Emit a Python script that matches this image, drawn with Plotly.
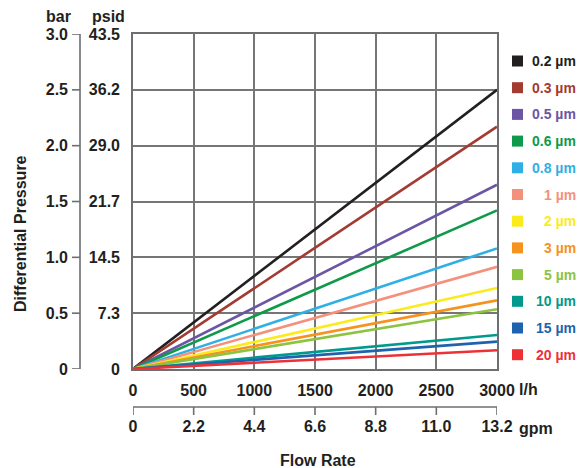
import plotly.graph_objects as go

W, H = 580, 468

# ---- data ----
flow_lh = [0, 3000]
grades = ["0.2 µm", "0.3 µm", "0.5 µm", "0.6 µm", "0.8 µm", "1 µm",
          "2 µm", "3 µm", "5 µm", "10 µm", "15 µm", "20 µm"]
dp_start_bar = [0, 0, 0, 0, 0, 0, 0, 0, 0, 0, 0, 0]
dp_end_bar = [2.50, 2.17, 1.65, 1.42, 1.08, 0.915, 0.725, 0.615, 0.535, 0.305, 0.245, 0.168]
colors = ["#231f20", "#a23b30", "#6b55a4", "#0e9a4a", "#2fb0e4", "#f4917c",
          "#fbeb1c", "#f6921e", "#8cc43f", "#009a8c", "#1d63ae", "#ec3237"]

bar_ticks = [0, 0.5, 1.0, 1.5, 2.0, 2.5, 3.0]
bar_labels = ["0", "0.5", "1.0", "1.5", "2.0", "2.5", "3.0"]
psid_labels = ["0", "7.3", "14.5", "21.7", "29.0", "36.2", "43.5"]
lh_ticks = [0, 500, 1000, 1500, 2000, 2500, 3000]
lh_labels = ["0", "500", "1000", "1500", "2000", "2500", "3000"]
gpm_ticks = [0, 2.2, 4.4, 6.6, 8.8, 11.0, 13.2]
gpm_labels = ["0", "2.2", "4.4", "6.6", "8.8", "11.0", "13.2"]


def px(x):
    return x / W


def py(y):
    return 1 - y / H


FONT = "Liberation Sans"
TXT = "#231f20"
GRID = "#767676"
AX = "#6d6e71"

fig = go.Figure()
for name, y0, y1, c in zip(grades, dp_start_bar, dp_end_bar, colors):
    fig.add_trace(go.Scatter(x=flow_lh, y=[y0, y1], mode="lines", name=name,
                             line=dict(color=c, width=2.6), showlegend=False,
                             xaxis="x", yaxis="y"))

# invisible anchor traces for the unit-scale subplots (bar / gpm)
fig.add_trace(go.Scatter(x=[0.5], y=[1.5], xaxis="x3", yaxis="y2", mode="markers",
                         marker=dict(size=1, opacity=0),
                         showlegend=False, hoverinfo="skip"))
fig.add_trace(go.Scatter(x=[6.6], y=[0.5], xaxis="x2", yaxis="y3", mode="markers",
                         marker=dict(size=1, opacity=0),
                         showlegend=False, hoverinfo="skip"))

tf = dict(family=FONT, size=16, color=TXT, weight="bold")
hidden = dict(showticklabels=False, showline=False, ticks="", showgrid=False,
              zeroline=False, range=[0, 1], automargin=False, fixedrange=True)

fig.update_layout(
    width=W, height=H,
    margin=dict(l=0, r=0, t=0, b=0),
    paper_bgcolor="white", plot_bgcolor="rgba(0,0,0,0)",
    font=dict(family=FONT, size=16, color=TXT, weight="bold"),
    xaxis=dict(domain=[px(133), px(497)], range=[0, 3000], automargin=False,
               anchor="y",
               tickvals=lh_ticks, ticktext=lh_labels, ticks="",
               showgrid=True, gridcolor=GRID, gridwidth=1.6,
               showline=True, linecolor=AX, linewidth=1.6, mirror=True,
               zeroline=False, ticklabelstandoff=6, tickfont=tf),
    yaxis=dict(domain=[py(369), py(34)], range=[0, 3], automargin=False,
               anchor="x",
               tickvals=bar_ticks, ticktext=psid_labels, ticks="",
               showgrid=True, gridcolor=GRID, gridwidth=1.6,
               showline=True, linecolor=AX, linewidth=1.6, mirror=True,
               zeroline=False, ticklabelstandoff=8, tickfont=tf),
    # gpm axis (bottom)
    xaxis2=dict(domain=[px(133), px(497)], anchor="y3", side="bottom",
                range=[0, 13.2], tickvals=gpm_ticks, ticktext=gpm_labels,
                automargin=False, ticks="", showgrid=False,
                showline=False, zeroline=False, tickfont=tf),
    yaxis3=dict(domain=[py(415), py(407)], anchor="x2", **hidden),
    # bar axis (left)
    yaxis2=dict(domain=[py(369), py(34)], anchor="x3", side="left",
                range=[0, 3], tickvals=bar_ticks, ticktext=bar_labels,
                automargin=False, ticks="", showgrid=False,
                showline=False, zeroline=False, ticklabelstandoff=3,
                tickfont=tf),
    xaxis3=dict(domain=[px(72), px(80)], anchor="y2", **hidden),
)

# axis spines and tick marks of the bar and gpm scales (placed via axis refs)
shapes = []
ln = dict(color=AX, width=1.6)
shapes.append(dict(type="line", xref="paper", yref="y2", layer="above",
                   x0=px(80), x1=px(80), y0=bar_ticks[0], y1=bar_ticks[-1], line=ln))
for t in bar_ticks:
    shapes.append(dict(type="line", xref="paper", yref="y2", layer="above",
                       x0=px(72), x1=px(80), y0=t, y1=t, line=ln))
shapes.append(dict(type="line", xref="x2", yref="paper", layer="above",
                   x0=gpm_ticks[0], x1=gpm_ticks[-1], y0=py(407), y1=py(407), line=ln))
for t in gpm_ticks:
    shapes.append(dict(type="line", xref="x2", yref="paper", layer="above",
                       x0=t, x1=t, y0=py(407), y1=py(415), line=ln))

ann = []


def add_text(x, y, text, size=16, xanchor="center", color=TXT, angle=0):
    ann.append(dict(x=px(x), y=py(y), xref="paper", yref="paper", text=text,
                    showarrow=False, xanchor=xanchor, yanchor="middle",
                    textangle=angle,
                    font=dict(family=FONT, size=size, color=color, weight="bold")))


add_text(58, 17, "bar")
add_text(109, 17, "psid")
add_text(20, 234, "Differential Pressure", angle=-90)
add_text(517, 389, "l/h", xanchor="left")
add_text(517, 428, "gpm", xanchor="left")
add_text(318, 460, "Flow Rate")

row0, step = 61, 26.7
for i, (name, c) in enumerate(zip(grades, colors)):
    yc = row0 + i * step
    shapes.append(dict(type="rect", xref="paper", yref="paper",
                       x0=px(512), x1=px(523), y0=py(yc + 5.5), y1=py(yc - 5.5),
                       fillcolor=c, line=dict(width=0)))
    add_text(578, yc, name, size=14, xanchor="right", color=c)

fig.update_layout(annotations=ann, shapes=shapes)
fig.write_html("out.html", config={"displayModeBar": False},
               post_script="document.body.style.margin='0';")
